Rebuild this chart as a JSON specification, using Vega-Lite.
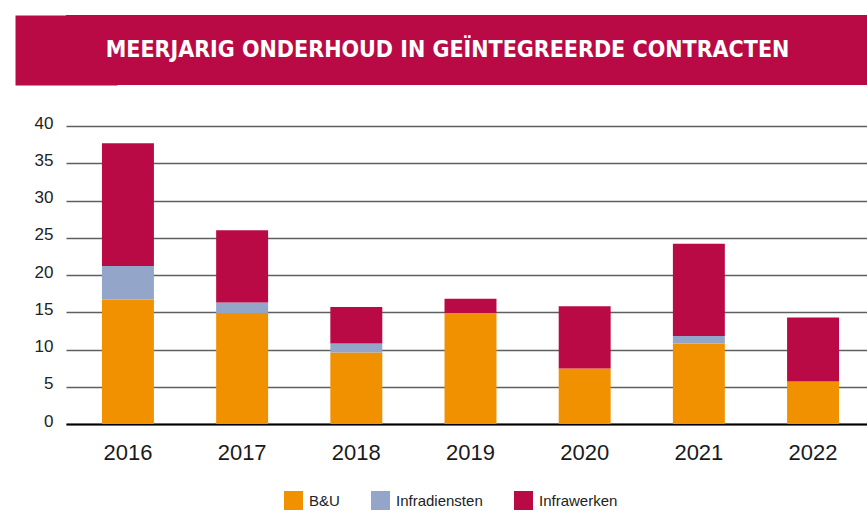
{
  "$schema": "https://vega.github.io/schema/vega-lite/v6.json",
  "padding": {"left": 15, "top": 15, "right": 0, "bottom": 0},
  "background": "white",
  "columns": 1,
  "spacing": 29,
  "datasets": {
    "banner": [{"title": "MEERJARIG ONDERHOUD IN GEÏNTEGREERDE CONTRACTEN"}],
    "bars": [
      {"year": "2016", "type": "B&U", "value": 16.7},
      {"year": "2016", "type": "Infradiensten", "value": 4.5},
      {"year": "2016", "type": "Infrawerken", "value": 16.5},
      {"year": "2017", "type": "B&U", "value": 14.9},
      {"year": "2017", "type": "Infradiensten", "value": 1.4},
      {"year": "2017", "type": "Infrawerken", "value": 9.7},
      {"year": "2018", "type": "B&U", "value": 9.6},
      {"year": "2018", "type": "Infradiensten", "value": 1.2},
      {"year": "2018", "type": "Infrawerken", "value": 4.9},
      {"year": "2019", "type": "B&U", "value": 14.9},
      {"year": "2019", "type": "Infrawerken", "value": 1.9},
      {"year": "2020", "type": "B&U", "value": 7.45},
      {"year": "2020", "type": "Infrawerken", "value": 8.35},
      {"year": "2021", "type": "B&U", "value": 10.8},
      {"year": "2021", "type": "Infradiensten", "value": 1.0},
      {"year": "2021", "type": "Infrawerken", "value": 12.4},
      {"year": "2022", "type": "B&U", "value": 5.7},
      {"year": "2022", "type": "Infrawerken", "value": 8.6}
    ]
  },
  "concat": [
    {
      "width": 801,
      "height": 70,
      "view": {"fill": "#BA0A46", "stroke": null},
      "data": {"name": "banner"},
      "mark": {"type": "text", "font": "DejaVu Sans Condensed", "fontWeight": "bold", "fontSize": 23, "color": "white", "align": "center", "baseline": "middle", "dx": -19},
      "encoding": {
        "text": {"field": "title"},
        "y": {"field": "title", "type": "nominal", "axis": {"title": null, "labels": false, "ticks": false, "grid": false, "domain": true, "domainColor": "#BA0A46", "domainWidth": 102, "domainCap": "butt", "minExtent": 51, "maxExtent": 51}}
      }
    },
    {
      "width": 801,
      "height": 298,
      "view": {"stroke": null},
      "data": {"name": "bars"},
      "mark": {"type": "bar"},
      "encoding": {
        "x": {
          "field": "year",
          "type": "nominal",
          "scale": {"paddingInner": 0.545, "paddingOuter": 0.28, "align": 0.5625},
          "axis": {"title": null, "labelAngle": 0, "labelFont": "Liberation Sans", "labelFontSize": 22, "labelColor": "#1a1a1a", "labelPadding": 18, "ticks": false, "domain": true, "domainColor": "#000000", "domainWidth": 2, "grid": false}
        },
        "y": {
          "field": "value",
          "type": "quantitative",
          "stack": "zero",
          "scale": {"domain": [0, 40]},
          "axis": {"title": null, "values": [0, 5, 10, 15, 20, 25, 30, 35, 40], "labelFont": "Liberation Sans", "labelFontSize": 17, "labelColor": "#222222", "labelPadding": 13, "labelOffset": -3, "labelFlush": false, "ticks": false, "domain": false, "grid": true, "gridColor": "#5f5f5f", "gridWidth": 1.5, "minExtent": 51, "maxExtent": 51}
        },
        "color": {
          "field": "type",
          "type": "nominal",
          "scale": {"domain": ["B&U", "Infradiensten", "Infrawerken"], "range": ["#F29100", "#93A5C8", "#BA0A46"]},
          "legend": {"title": null, "orient": "none", "direction": "horizontal", "legendX": 218, "legendY": 476, "symbolType": "square", "symbolSize": 361, "symbolStrokeWidth": 0, "symbolOpacity": 1, "labelFont": "Liberation Sans", "labelFontSize": 15, "labelColor": "#222222", "labelOffset": 6, "columnPadding": 31}
        },
        "order": {"field": "type", "sort": "ascending"}
      }
    }
  ]
}
